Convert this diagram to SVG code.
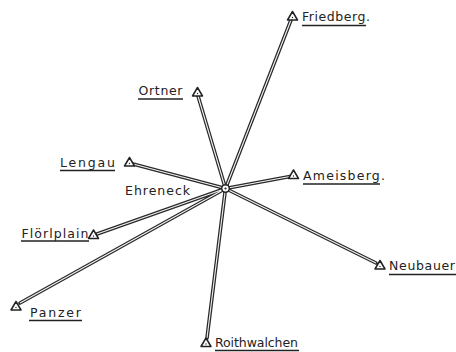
<svg xmlns="http://www.w3.org/2000/svg" width="456" height="352" viewBox="0 0 456 352">
<style>
.o{stroke:#2a2a2a;stroke-width:3.6;fill:none;stroke-linecap:round}
.i{stroke:#f4f4f4;stroke-width:1.1;fill:none}
.tri{fill:#fff;stroke:#222;stroke-width:1.5;stroke-linejoin:round}
.dot{fill:#222}
text{font-family:"DejaVu Sans","Liberation Sans",sans-serif;font-size:12.5px;fill:#222}
.ul{stroke:#222;stroke-width:1.3}
</style>
<defs>
<g id="t"><polygon class="tri" points="0,-5 5,3.5 -5,3.5"/><circle class="dot" cx="0" cy="1" r="0.7"/></g>
</defs>
<rect width="456" height="352" fill="#fff"/>
<g id="connectors">
<path class="o" d="M225.5 188.5L291 20M225.5 188.5L198 96M225.5 188.5L133 164M225.5 188.5L97 234M225.5 188.5L20 303M225.5 188.5L207 338M225.5 188.5L290 176.5M225.5 188.5L376 263"/>
<path class="i" d="M225.5 188.5L291 20M225.5 188.5L198 96M225.5 188.5L133 164M225.5 188.5L97 234M225.5 188.5L20 303M225.5 188.5L207 338M225.5 188.5L290 176.5M225.5 188.5L376 263"/>
</g>
<g id="Ehreneck">
<circle cx="225.5" cy="188.5" r="3.8" fill="#fff" stroke="#222" stroke-width="1.5"/>
<circle cx="225.5" cy="188.5" r="1.1" class="dot"/>
<text x="125" y="195" textLength="65" lengthAdjust="spacing">Ehreneck</text>
</g>
<g id="Friedberg"><use href="#t" x="292.5" y="16.5"/><text x="302" y="21" textLength="68" lengthAdjust="spacing">Friedberg.</text><line class="ul" x1="302" y1="25.5" x2="366" y2="25.5"/></g>
<g id="Ortner"><use href="#t" x="197.5" y="92.5"/><text x="138.5" y="95" textLength="44" lengthAdjust="spacing">Ortner</text><line class="ul" x1="138" y1="99" x2="183" y2="99"/></g>
<g id="Lengau"><use href="#t" x="129.5" y="162.5"/><text x="60" y="166.5" textLength="55" lengthAdjust="spacing">Lengau</text><line class="ul" x1="60" y1="170.5" x2="115" y2="170.5"/></g>
<g id="Florlplain"><use href="#t" x="93.5" y="235"/><text x="21.5" y="238" textLength="67" lengthAdjust="spacing">Flörlplain</text><line class="ul" x1="21" y1="241" x2="89" y2="241"/></g>
<g id="Ameisberg"><use href="#t" x="293.5" y="175"/><text x="303" y="180" textLength="82" lengthAdjust="spacing">Ameisberg.</text><line class="ul" x1="303" y1="184" x2="380" y2="184"/></g>
<g id="Neubauer"><use href="#t" x="380" y="265.5"/><text x="389" y="270" textLength="66" lengthAdjust="spacing">Neubauer</text><line class="ul" x1="389" y1="274.5" x2="456" y2="274.5"/></g>
<g id="Panzer"><use href="#t" x="16" y="306.5"/><text x="30" y="316.5" textLength="51" lengthAdjust="spacing">Panzer</text><line class="ul" x1="29" y1="320.5" x2="82" y2="320.5"/></g>
<g id="Roithwalchen"><use href="#t" x="206" y="343"/><text x="215" y="346.5" textLength="83" lengthAdjust="spacing">Roithwalchen</text><line class="ul" x1="215" y1="350.5" x2="299" y2="350.5"/></g>
</svg>
